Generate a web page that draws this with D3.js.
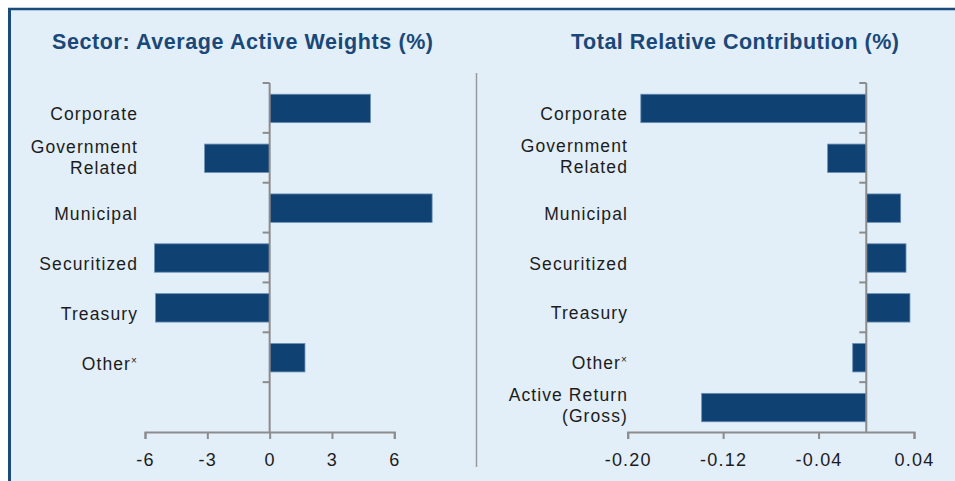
<!DOCTYPE html>
<html>
<head>
<meta charset="utf-8">
<script src="https://cdn.jsdelivr.net/npm/d3@7"></script>
<style>
  html, body { margin: 0; padding: 0; background: #ffffff; }
  svg { display: block; }
  text { font-family: "Liberation Sans", "DejaVu Sans", sans-serif; }
</style>
</head>
<body>
<script>
// ---------- data ----------
const leftTitle = "Sector: Average Active Weights (%)";
const rightTitle = "Total Relative Contribution (%)";

const leftCategories = ["Corporate", "Government|Related", "Municipal", "Securitized", "Treasury", "Other"];
const leftValues = [4.85, -3.13, 7.82, -5.54, -5.49, 1.70];
const leftTicks = [-6, -3, 0, 3, 6];
const leftTickLabels = ["-6", "-3", "0", "3", "6"];

const rightCategories = ["Corporate", "Government|Related", "Municipal", "Securitized", "Treasury", "Other", "Active Return|(Gross)"];
const rightValues = [-0.189, -0.0324, 0.0288, 0.0333, 0.0366, -0.0114, -0.138];
const rightTicks = [-0.20, -0.12, -0.04, 0.04];
const rightTickLabels = ["-0.20", "-0.12", "-0.04", "0.04"];

// ---------- drawing ----------
const W = 955, H = 481;
const BG = "#e2eef8", FRAME = "#1b4b7b", TITLE = "#1a4878", BAR = "#0f4273",
      BARSTROKE = "#6b8fb3", AXIS = "#8c8c8c", LABEL = "#1c1c1c";

const svg = d3.select("body").append("svg").attr("width", W).attr("height", H);

svg.append("rect").attr("x", 9).attr("y", 9).attr("width", W - 9).attr("height", H - 9).attr("fill", BG);
svg.append("line").attr("x1", 9.5).attr("x2", 9.5).attr("y1", 8).attr("y2", H).attr("stroke", FRAME).attr("stroke-width", 3);
svg.append("line").attr("x1", 8).attr("x2", W).attr("y1", 9).attr("y2", 9).attr("stroke", FRAME).attr("stroke-width", 2.5);

// divider
svg.append("line").attr("x1", 476.5).attr("x2", 476.5).attr("y1", 73).attr("y2", 467)
  .attr("stroke", "#9a9a9a").attr("stroke-width", 1.5);

function title(txt, x1, x2) {
  svg.append("text").attr("x", x1).attr("y", 49)
    .attr("fill", TITLE).attr("font-size", 21.5).attr("font-weight", "bold")
    .attr("textLength", x2 - x1).attr("lengthAdjust", "spacing")
    .text(txt);
}
title(leftTitle, 52, 433);
title(rightTitle, 571, 899);

function panel(opts) {
  const { cats, vals, domain, range, ticks, tickLabels, labelX, nBands, singleDy, twoDy } = opts;
  const slots = cats.slice();
  while (slots.length < nBands) slots.push("__blank" + slots.length);
  const y = d3.scaleBand().domain(slots).range([83, 432]).padding(0);
  const x = d3.scaleLinear().domain(domain).range(range);
  const g = svg.append("g");
  const barH = y.bandwidth() * 0.57;

  // bars
  g.selectAll("rect.bar").data(vals).join("rect")
    .attr("x", (d) => Math.min(x(0), x(d)))
    .attr("width", (d) => Math.abs(x(d) - x(0)))
    .attr("y", (d, i) => y(cats[i]) + (y.bandwidth() - barH) / 2 + 0.5)
    .attr("height", barH)
    .attr("fill", BAR).attr("stroke", BARSTROKE).attr("stroke-width", 0.8);

  // x axis
  const xa = g.append("g").attr("transform", `translate(0,${y.range()[1]})`)
    .call(d3.axisBottom(x).tickValues(ticks).tickSize(7).tickPadding(0).tickFormat((d, i) => tickLabels[i]));
  xa.select(".domain").attr("stroke", AXIS).attr("stroke-width", 2);
  xa.selectAll(".tick line").attr("stroke", AXIS).attr("stroke-width", 2);
  xa.selectAll(".tick text").attr("fill", LABEL).attr("font-size", 18)
    .attr("font-family", "Liberation Sans, sans-serif").attr("letter-spacing", "1.2px")
    .attr("dy", null).attr("y", 34);

  // y axis line + ticks at band starts
  const x0 = x(0);
  g.append("line").attr("x1", x0).attr("x2", x0).attr("y1", y.range()[0]).attr("y2", y.range()[1])
    .attr("stroke", AXIS).attr("stroke-width", 2);
  g.selectAll("line.ytick").data(slots).join("line")
    .attr("x1", x0 - 7).attr("x2", x0)
    .attr("y1", (d) => y(d)).attr("y2", (d) => y(d))
    .attr("stroke", AXIS).attr("stroke-width", 2);

  // category labels
  cats.forEach((c, i) => {
    const cy = y(c) + y.bandwidth() / 2;
    const parts = c.split("|");
    const t = g.append("text").attr("text-anchor", "end").attr("fill", LABEL)
      .attr("font-size", 17.5).attr("letter-spacing", "1.1px");
    if (parts.length === 1) {
      if (c === "Other") {
        t.attr("x", labelX).attr("y", cy + singleDy);
        t.append("tspan").text("Other");
        t.append("tspan").attr("font-size", 10).attr("dy", -6).text("×");
      } else {
        t.attr("x", labelX).attr("y", cy + singleDy).text(c);
      }
    } else {
      t.append("tspan").attr("x", labelX).attr("y", cy + twoDy[0]).text(parts[0]);
      t.append("tspan").attr("x", labelX).attr("y", cy + twoDy[1]).text(parts[1]);
    }
  });
}

panel({ cats: leftCategories, vals: leftValues, domain: [-6, 6], range: [145, 394.3],
        ticks: leftTicks, tickLabels: leftTickLabels, labelX: 138, nBands: 7, singleDy: 12.5, twoDy: [-5, 16] });
panel({ cats: rightCategories, vals: rightValues, domain: [-0.20, 0.04], range: [627.7, 914],
        ticks: rightTicks, tickLabels: rightTickLabels, labelX: 628, nBands: 7, singleDy: 12, twoDy: [-6, 15] });
</script>
</body>
</html>
